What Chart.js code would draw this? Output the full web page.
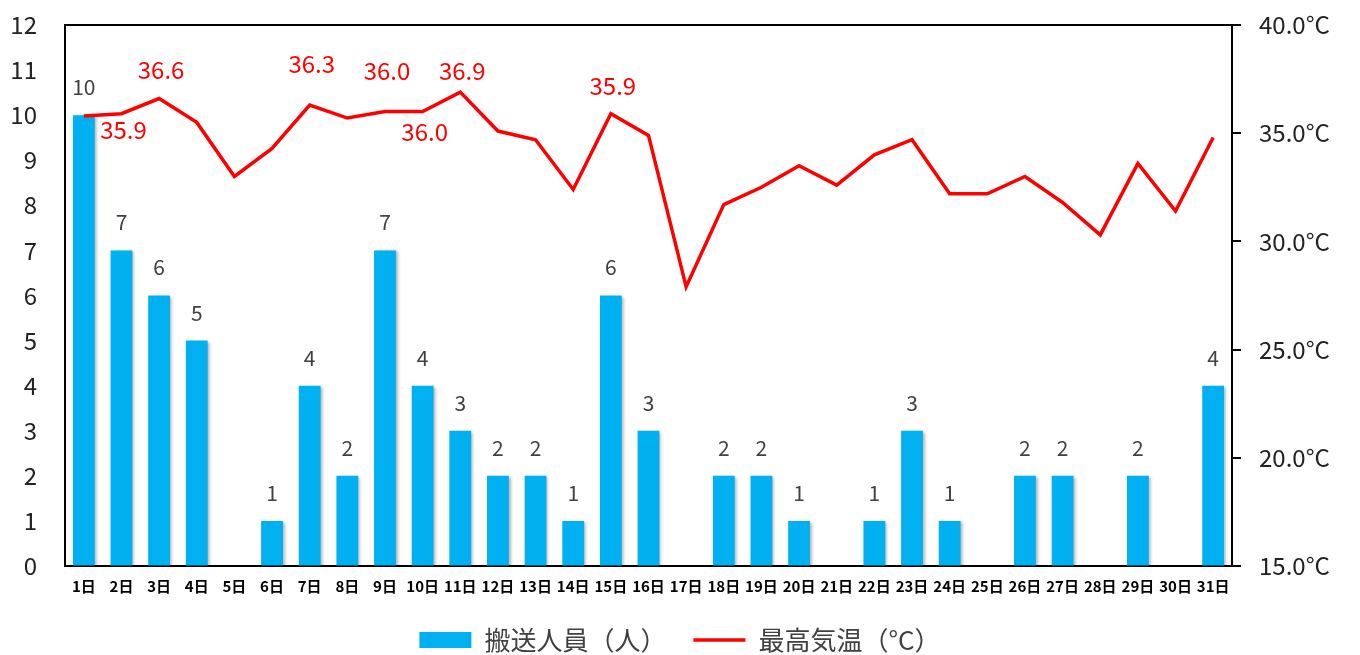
<!DOCTYPE html>
<html>
<head>
<meta charset="utf-8">
<script src="https://cdn.jsdelivr.net/npm/chart.js@4"></script>
<style>
  body { margin: 0; background: #fff; }
</style>
</head>
<body>
<canvas id="chart" width="1360" height="655"></canvas>
<script>
const days = ['1日','2日','3日','4日','5日','6日','7日','8日','9日','10日','11日','12日','13日','14日','15日','16日',
  '17日','18日','19日','20日','21日','22日','23日','24日','25日','26日','27日','28日','29日','30日','31日'];
const transported = [10, 7, 6, 5, 0, 1, 4, 2, 7, 4, 3, 2, 2, 1, 6, 3, 0, 2, 2, 1, 0, 1, 3, 1, 0, 2, 2, 0, 2, 0, 4];
const maxTemp = [35.8, 35.9, 36.6, 35.5, 33.0, 34.3, 36.3, 35.7, 36.0, 36.0, 36.9, 35.1, 34.7, 32.4, 35.9, 34.9,
  27.9, 31.7, 32.5, 33.5, 32.6, 34.0, 34.7, 32.2, 32.2, 33.0, 31.8, 30.3, 33.6, 31.4, 34.8];
// which temperature points get a label, and how far above (-) or below (+) the point it sits
const tempLabelShift = { 1: 16, 2: -29, 6: -41, 8: -41, 9: 20, 10: -21, 14: -28 };

const FONT = '"Noto Sans CJK JP", "Noto Sans", sans-serif';

// soft shadow on the bars, like the original
const barShadow = {
  id: 'barShadow',
  beforeDatasetDraw(chart, args) {
    if (args.index !== 0) return;
    const ctx = chart.ctx;
    ctx.save();
    ctx.shadowColor = 'rgba(0,0,0,0.3)';
    ctx.shadowBlur = 3;
    ctx.shadowOffsetX = 2;
    ctx.shadowOffsetY = 1;
  },
  afterDatasetDraw(chart, args) {
    if (args.index !== 0) return;
    chart.ctx.restore();
  }
};

// top edge of the frame + short outward ticks on the temperature axis
const frame = {
  id: 'frame',
  afterDraw(chart) {
    const { ctx, chartArea } = chart;
    const y1 = chart.scales.y1;
    ctx.save();
    ctx.strokeStyle = '#000';
    ctx.lineWidth = 2;
    ctx.beginPath();
    ctx.moveTo(chartArea.left, chartArea.top);
    ctx.lineTo(chartArea.right, chartArea.top);
    y1.ticks.forEach((t, i) => {
      const y = Math.round(y1.getPixelForTick(i));
      ctx.moveTo(chartArea.right, y);
      ctx.lineTo(chartArea.right + 9, y);
    });
    ctx.stroke();
    ctx.restore();
  }
};

// value labels for bars and selected temperature points
const valueLabels = {
  id: 'valueLabels',
  afterDatasetsDraw(chart) {
    const ctx = chart.ctx;
    ctx.save();
    ctx.textAlign = 'center';
    ctx.textBaseline = 'middle';

    ctx.font = '21px ' + FONT;
    ctx.fillStyle = '#404040';
    chart.getDatasetMeta(0).data.forEach((bar, i) => {
      if (!transported[i]) return;
      ctx.fillText(String(transported[i]), bar.x, bar.y - 28);
    });

    ctx.font = '24px ' + FONT;
    ctx.fillStyle = '#ff0000';
    const pts = chart.getDatasetMeta(1).data;
    Object.keys(tempLabelShift).forEach(k => {
      const i = Number(k);
      ctx.fillText(maxTemp[i].toFixed(1), pts[i].x + 2, pts[i].y + tempLabelShift[k]);
    });
    ctx.restore();
  }
};

new Chart(document.getElementById('chart'), {
  type: 'bar',
  data: {
    labels: days,
    datasets: [
      {
        label: '搬送人員（人）',
        data: transported,
        backgroundColor: '#00b0f0',
        borderWidth: 0,
        barPercentage: 0.58,
        categoryPercentage: 1,
        yAxisID: 'y',
        order: 2
      },
      {
        type: 'line',
        label: '最高気温（°C）',
        data: maxTemp,
        borderColor: '#ff0000',
        backgroundColor: '#ff0000',
        borderWidth: 3.5,
        pointRadius: 0,
        pointStyle: 'line',
        tension: 0,
        yAxisID: 'y1',
        order: 1
      }
    ]
  },
  options: {
    responsive: false,
    animation: false,
    layout: { padding: { top: 25, left: 0, right: 0, bottom: -8 } },
    plugins: {
      tooltip: { enabled: false },
      legend: {
        position: 'bottom',
        labels: {
          usePointStyle: true,
          pointStyleWidth: 52,
          boxHeight: 16,
          padding: 27,
          color: '#404040',
          font: { family: FONT, size: 26 },
          sort: (a, b) => a.datasetIndex - b.datasetIndex,
          generateLabels(chart) {
            const items = Chart.defaults.plugins.legend.labels.generateLabels(chart);
            items.forEach(it => {
              it.pointStyle = it.datasetIndex === 0 ? 'rect' : 'line';
              if (it.datasetIndex === 0) it.lineWidth = 0;
            });
            return items;
          }
        }
      }
    },
    scales: {
      x: {
        grid: { display: true, drawOnChartArea: false, drawTicks: false },
        border: { display: true, color: '#000', width: 2 },
        ticks: {
          color: '#000',
          padding: 11,
          maxRotation: 0,
          autoSkip: false,
          font: { family: FONT, size: 15, weight: 'bold' }
        },
        afterFit(scale) { scale.height = 34; }
      },
      y: {
        position: 'left',
        min: 0,
        max: 12,
        grid: { display: true, drawOnChartArea: false, drawTicks: true, tickLength: 28, color: 'transparent' },
        border: { display: true, color: '#000', width: 2 },
        ticks: {
          stepSize: 1,
          padding: 0,
          color: '#222',
          font: { family: FONT, size: 24 }
        },
        afterFit(scale) { scale.width = 65; }
      },
      y1: {
        position: 'right',
        min: 15,
        max: 40,
        grid: { display: true, drawOnChartArea: false, drawTicks: true, tickLength: 27, color: 'transparent' },
        border: { display: true, color: '#000', width: 2 },
        ticks: {
          stepSize: 5,
          padding: 0,
          color: '#222',
          font: { family: FONT, size: 24 },
          callback: v => v.toFixed(1) + '°C'
        },
        afterFit(scale) { scale.width = 128; }
      }
    }
  },
  plugins: [barShadow, frame, valueLabels]
});
</script>
</body>
</html>
